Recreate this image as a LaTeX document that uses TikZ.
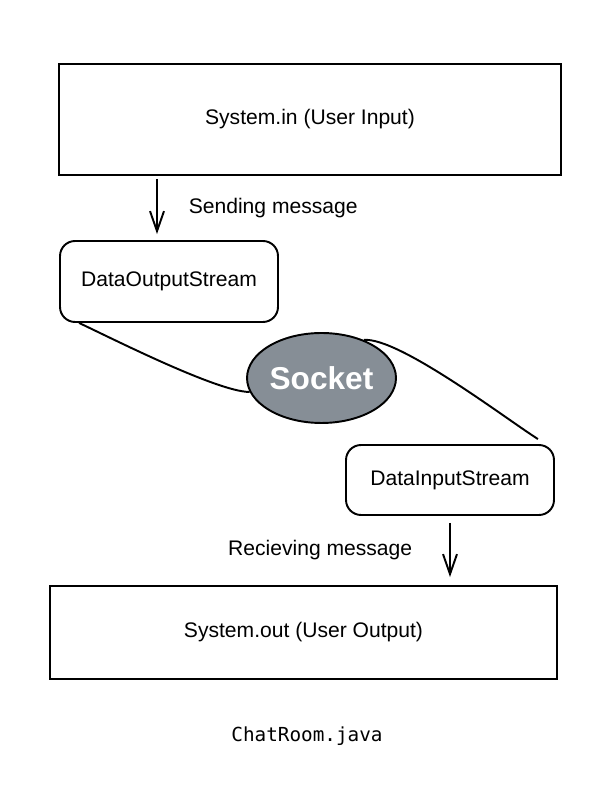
\documentclass[tikz,border=0pt]{standalone}
\usepackage{fontspec}
\setmainfont{Liberation Sans}
\setmonofont{DejaVu Sans Mono}
\usepackage{tikz}
\usetikzlibrary{arrows.meta}
\usetikzlibrary{shapes.geometric}
\definecolor{socketgray}{RGB}{134,142,150}

\begin{document}
\begin{tikzpicture}[x=0.02cm,y=0.02cm,
		iobox/.style = {draw, rectangle, line width=1.1pt, font=\fontsize{12}{14}\selectfont},
		streambox/.style = {draw, rectangle, rounded corners=0.3cm, line width=1.1pt, font=\fontsize{12}{14}\selectfont},
		flow/.style = {line width=1.1pt, -{Straight Barb[length=0.4cm,width=0.28cm]}}]
	\useasboundingbox (0,0) rectangle (607,794);
	\begin{scope}[every node/.style={inner sep=0pt}]
		\node[iobox, minimum width=10.04cm, minimum height=2.22cm] (in) at (310,674.5) {System.in (User Input)};
		\node[streambox, minimum width=4.36cm, minimum height=1.62cm] (dos) at (169,512.5) {DataOutputStream};
		\node[draw, ellipse, line width=1.1pt, fill=socketgray, minimum width=2.98cm, minimum height=1.8cm] (sock) at (321.5,416) {\textcolor{white}{\fontsize{18}{20}\selectfont\bfseries Socket}};
		\node[streambox, minimum width=4.16cm, minimum height=1.4cm] (dis) at (450,314) {DataInputStream};
		\node[iobox, minimum width=10.14cm, minimum height=1.86cm] (out) at (303.5,161.5) {System.out (User Output)};
		\node (title) at (307,58) {\fontsize{11}{13}\selectfont\ttfamily ChatRoom.java};
	\end{scope}
	\coordinate (sendx) at (157,0);
	\coordinate (recvend) at ([xshift=-0.34cm,yshift=0.1cm]dis.north east);
	\draw [flow, shorten <=0.06cm, shorten >=0.12cm] (in.south -| sendx) -- (dos.north -| sendx) node[midway, right=0.5cm, font=\fontsize{12}{14}\selectfont] {Sending message};
	\draw [flow, shorten <=0.14cm, shorten >=0.16cm] (dis.south) -- (dis.south |- out.north) node[midway, left=0.62cm, font=\fontsize{12}{14}\selectfont] {Recieving message};
	\draw [line width=1.1pt, black] ([xshift=0.4cm]dos.south west) to [out=-25,in=180,looseness=0.45] (sock.191);
	\draw [line width=1.1pt, black] (sock.42) to [out=5,in=148,looseness=0.45] (recvend);
\end{tikzpicture}
\end{document}
